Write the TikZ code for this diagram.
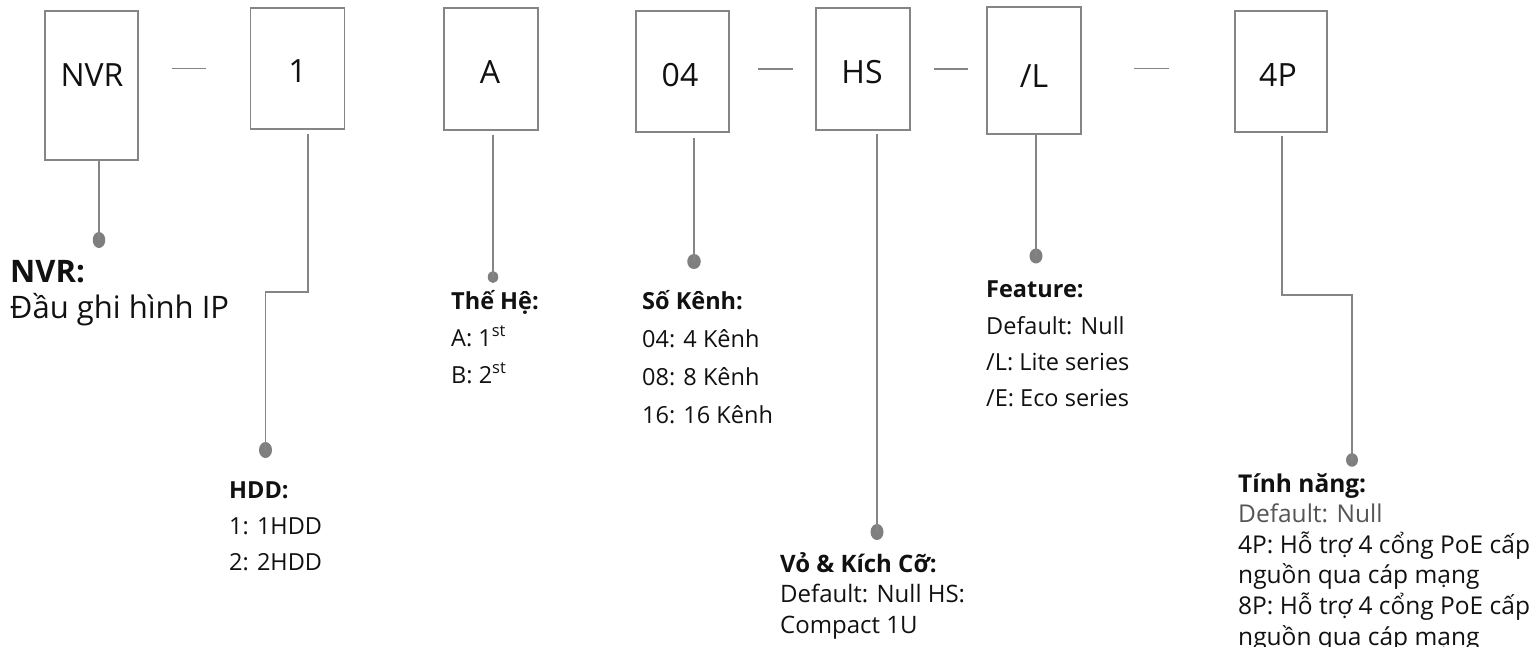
\documentclass[tikz,border=0pt]{standalone}
\usepackage{fontspec}
\setmainfont{Open Sans}
\usetikzlibrary{shapes.geometric}
\definecolor{linegray}{HTML}{858585}
\definecolor{dotgray}{HTML}{7F7F7F}
\definecolor{txt}{HTML}{111111}
\definecolor{lighttxt}{HTML}{555555}
\newcommand\mylines[2]{\vtop{\baselineskip=#1\lineskiplimit=-100pt\lineskip=0pt\relax #2}}
\tikzset{
  codebox/.style={draw=linegray, line width=1.6pt, rectangle, inner sep=0pt},
  boxtext/.style={font=\fontsize{32}{36}\selectfont, text=txt, inner sep=0pt, anchor=base},
  sep/.style={draw=linegray, line width=1.5pt},
  conn/.style={draw=linegray, line width=1.6pt},
  dotmark/.style={ellipse, fill=dotgray, draw=none, inner sep=0pt, minimum width=12pt, minimum height=15pt},
  biglabel/.style={font=\fontsize{31}{36}\selectfont, text=txt, inner sep=0pt, anchor=base west},
  label/.style={font=\fontsize{23.5}{36}\selectfont, text=txt, inner sep=0pt, anchor=base west},
}
\begin{document}
\begin{tikzpicture}[x=1pt,y=-1pt]
\path[fill=white, use as bounding box] (0,0) rectangle (1535,647);

% code boxes
\node[codebox, minimum width=93pt, minimum height=149pt] (nvr) at (91.5,85.5) {};
\node[codebox, minimum width=94pt, minimum height=121pt] (one) at (297.5,68.5) {};
\node[codebox, minimum width=94pt, minimum height=122pt] (gen) at (491,69) {};
\node[codebox, minimum width=93pt, minimum height=121pt] (ch) at (682.5,71.5) {};
\node[codebox, minimum width=94pt, minimum height=122pt] (hs) at (863,69) {};
\node[codebox, minimum width=94pt, minimum height=127pt] (lite) at (1034,70.5) {};
\node[codebox, minimum width=92pt, minimum height=121pt] (poe) at (1281,71.5) {};

\node[boxtext] (tnvr) at (92,87) {NVR};
\node[boxtext] (tone) at (297.5,83) {1};
\node[boxtext] (tgen) at (490,84) {A};
\node[boxtext] (tch) at (680,87) {04};
\node[boxtext] (ths) at (862,84) {HS};
\node[boxtext] (tlite) at (1034,88) {/L};
\node[boxtext] (tpoe) at (1278,87) {4P};

% separators
\draw[sep] ([xshift=33pt]nvr.east |- one.west) -- ([xshift=-44pt]one.west);
\draw[sep] ([xshift=28pt]ch.east |- hs.west) -- ([xshift=-22pt]hs.west);
\draw[sep] ([xshift=23pt]hs.east |- hs.west) -- ([xshift=-18pt]hs.east -| lite.west);
\draw[sep] ([xshift=52pt]lite.east |- one.west) -- ([xshift=-65pt]poe.west |- one.west);

% dots
\node[dotmark, minimum width=12.5pt, minimum height=16pt] (d1) at (99,240) {};
\node[dotmark, minimum width=13pt, minimum height=16pt] (d2) at (265.5,450) {};
\node[dotmark, minimum width=10.5pt, minimum height=12pt] (d3) at (493,277) {};
\node[dotmark, minimum width=13.5pt, minimum height=15pt] (d4) at (694,261.5) {};
\node[dotmark, minimum width=13pt, minimum height=16pt] (d5) at (877,532) {};
\node[dotmark, minimum width=13pt, minimum height=15pt] (d6) at (1036,256) {};
\node[dotmark, minimum width=12pt, minimum height=13.5pt] (d7) at (1352,460) {};

% connectors
\draw[conn] (nvr.south -| d1) -- (d1.center);
\draw[conn] ([xshift=10.5pt,yshift=-4pt]one.south) -- ++(0,158) -| (d2.center);
\draw[conn] ([yshift=-4pt]gen.south -| d3) -- (d3.center);
\draw[conn] ([yshift=-5pt]ch.south -| d4) -- (d4.center);
\draw[conn] ([yshift=-3pt]hs.south -| d5) -- (d5.center);
\draw[conn] (lite.south -| d6) -- (d6.center);
\draw[conn] ([xshift=1pt,yshift=-3pt]poe.south) -- ++(0,159) -| (d7.center);

% labels
\node[biglabel] (lnvr) at (10,283) {\mylines{36pt}{\hbox{\bfseries NVR:}\hbox{Đầu ghi hình IP}}};
\node[label] (lhdd) at (229,498) {\mylines{36pt}{\hbox{\bfseries HDD:}\hbox{1: 1HDD}\hbox{2: 2HDD}}};
\node[label] (lgen) at (451,309) {\mylines{37pt}{\hbox{\bfseries Thế Hệ:}\hbox{A: 1\textsuperscript{st}}\hbox{B: 2\textsuperscript{st}}}};
\node[label] (lch) at (642,309) {\mylines{38pt}{\hbox{\bfseries Số Kênh:}\hbox{04: 4 Kênh}\hbox{08: 8 Kênh}\hbox{16: 16 Kênh}}};
\node[label, font=\fontsize{24}{30}\selectfont] (lhs) at (780,572) {\mylines{30.5pt}{\hbox{\bfseries Vỏ \& Kích Cỡ:}\hbox{Default: Null HS:}\hbox{Compact 1U}}};
\node[label] (llite) at (986,298) {\mylines{36.3pt}{\hbox{\bfseries Feature:}\hbox{Default: Null}\hbox{/L: Lite series}\hbox{/E: Eco series}}};
\node[label, font=\fontsize{24.5}{30}\selectfont] (lpoe) at (1238,492) {\mylines{30.6pt}{\hbox{\bfseries Tính năng:}\hbox{\color{lighttxt}Default: Null}\hbox{4P: Hỗ trợ 4 cổng PoE cấp}\hbox{nguồn qua cáp mạng}\hbox{8P: Hỗ trợ 4 cổng PoE cấp}\hbox{nguồn qua cáp mạng}}};
\end{tikzpicture}
\end{document}
